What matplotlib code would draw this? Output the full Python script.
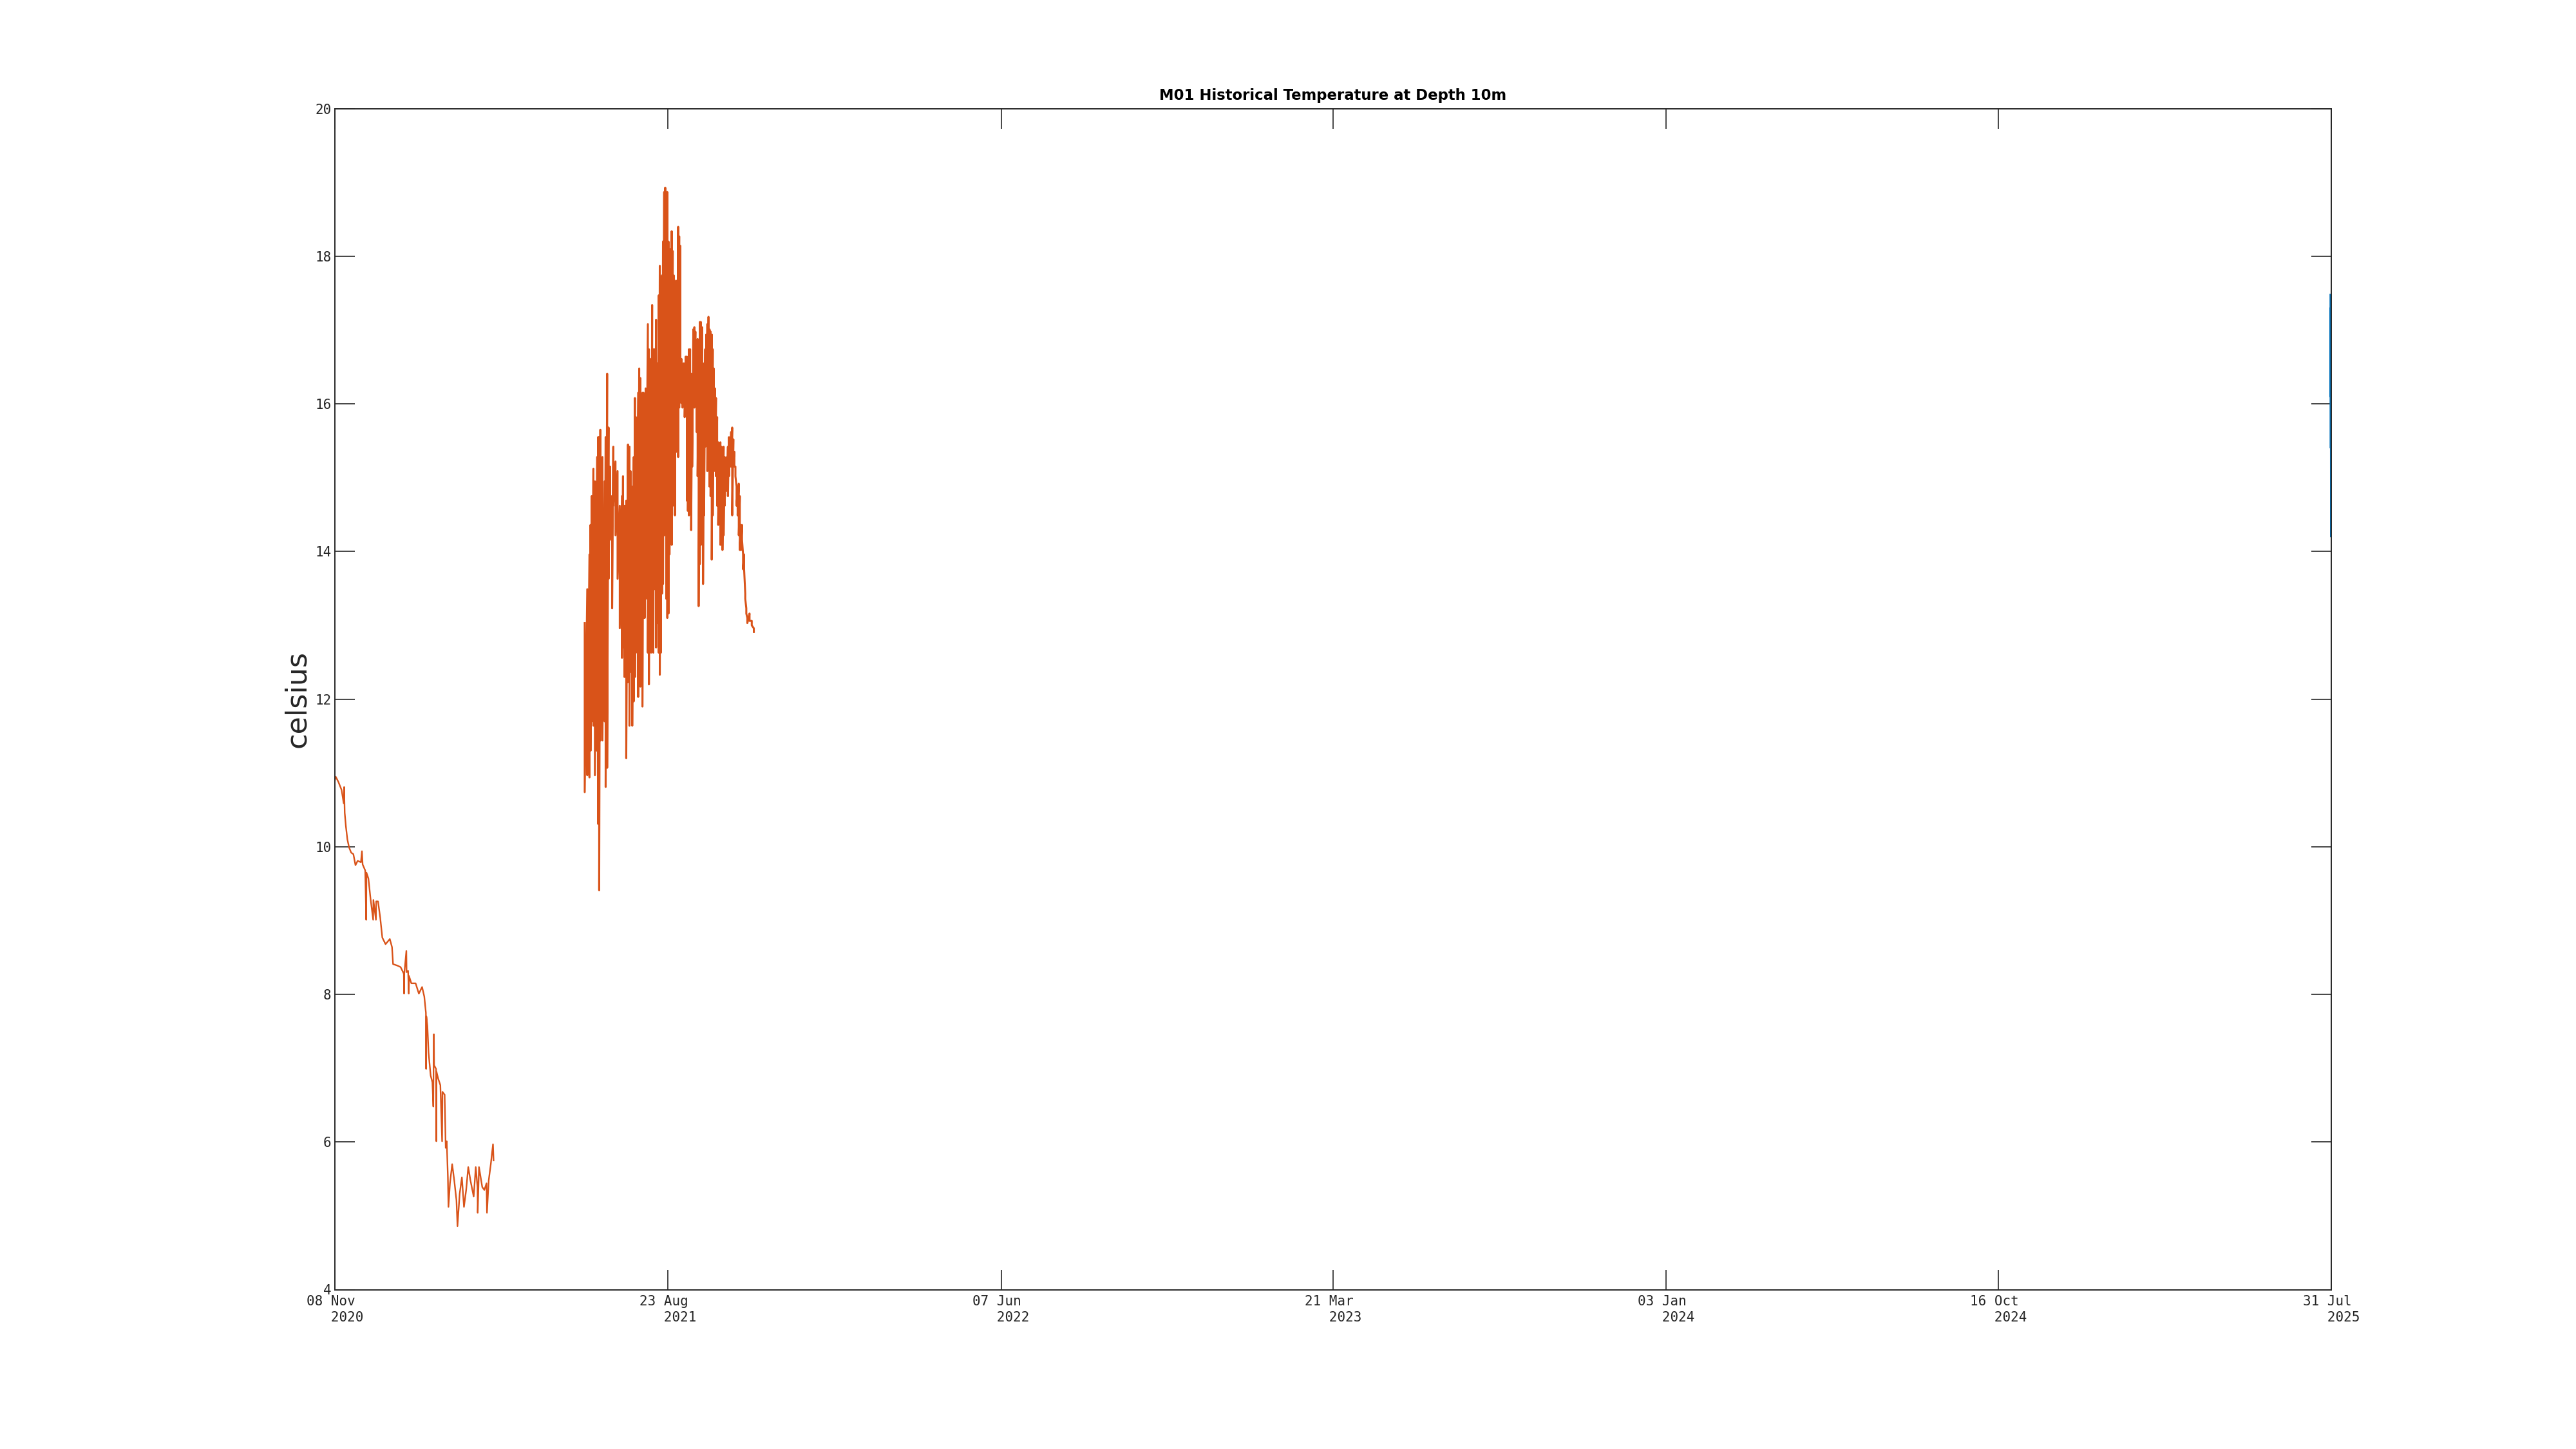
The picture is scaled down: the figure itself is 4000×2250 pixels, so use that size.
import numpy as np
import pandas as pd
import matplotlib
matplotlib.use('Agg')
import matplotlib.pyplot as plt

# ------------------------------------------------------------
# axis range / ticks
# ------------------------------------------------------------
t_start = pd.Timestamp('2020-11-08')
t_end = pd.Timestamp('2025-07-31')
tick_dates = pd.to_datetime(['2020-11-08', '2021-08-23', '2022-06-07', '2023-03-21',
                             '2024-01-03', '2024-10-16', '2025-07-31'])
y_ticks = [4, 6, 8, 10, 12, 14, 16, 18, 20]

# ------------------------------------------------------------
# orange series, part 1 (days since 2020-11-08, celsius)
# ------------------------------------------------------------
s1_day = [0.0, 0.7, 3.0, 5.8, 7.6, 8.0, 8.5, 9.5, 10.8, 12.3, 14.1, 16.0, 17.8, 19.7,
          22.5, 23.4, 24.0, 26.2, 27.1, 27.3, 29.0, 30.8, 33.1, 33.3, 35.5, 35.7, 37.3,
          39.2, 41.0, 43.8, 47.5, 49.4, 50.3, 54.0, 56.8, 59.6, 59.8, 60.0, 61.8, 62.0,
          63.3, 63.9, 64.1, 66.1, 69.8, 72.6, 75.4, 77.3, 78.7, 78.9, 79.1, 80.0, 81.0,
          82.8, 84.3, 85.1, 85.3, 85.6, 85.8, 87.5, 87.7, 87.9, 89.3, 91.2, 92.7, 93.0,
          94.9, 95.8, 96.7, 97.7, 98.2, 99.5, 101.4, 103.2, 105.1, 106.0, 107.9, 109.8,
          111.6, 113.5, 115.3, 117.2, 120.0, 121.8, 123.3, 123.5, 124.6, 127.4, 129.2,
          131.1, 131.5, 133.0, 134.8, 136.7, 137.2]
s1_temp = [10.90, 10.95, 10.88, 10.77, 10.59, 10.81, 10.46, 10.28, 10.10, 9.99, 9.92, 9.90,
           9.75, 9.81, 9.79, 9.94, 9.76, 9.68, 9.01, 9.65, 9.57, 9.30, 9.01, 9.28, 9.01,
           9.26, 9.26, 9.04, 8.77, 8.68, 8.75, 8.64, 8.41, 8.39, 8.37, 8.28, 8.01, 8.28,
           8.59, 8.30, 8.32, 8.01, 8.25, 8.15, 8.15, 8.01, 8.10, 7.97, 7.75, 6.99, 7.70,
           7.57, 7.21, 6.90, 6.81, 6.48, 6.95, 7.46, 7.04, 6.99, 6.01, 6.95, 6.86, 6.77,
           6.01, 6.68, 6.64, 5.92, 6.01, 5.52, 5.12, 5.44, 5.70, 5.48, 5.21, 4.86, 5.30,
           5.52, 5.12, 5.35, 5.66, 5.48, 5.26, 5.66, 5.39, 5.04, 5.66, 5.39, 5.35, 5.44,
           5.04, 5.48, 5.70, 5.97, 5.75]

# ------------------------------------------------------------
# orange series, part 2: daily high / low of the fast oscillation
# ------------------------------------------------------------
s2_day = [216.0, 218.2, 220.1, 221.0, 222.0, 223.5, 224.8, 226.7, 227.6, 228.5,
          229.5, 231.3, 233.2, 234.1, 235.4, 236.6, 237.9, 238.8, 239.7, 240.7,
          242.6, 244.4, 246.3, 248.2, 249.1, 250.4, 251.9, 253.4, 254.7, 255.6,
          257.1, 258.4, 259.4, 260.3, 262.2, 263.1, 264.1, 265.0, 265.9, 266.9,
          267.8, 268.7, 270.6, 271.5, 272.5, 273.4, 274.3, 275.3, 276.2, 277.7,
          278.5, 280.0, 280.9, 281.8, 282.8, 283.7, 284.7, 285.6, 286.5, 287.4,
          288.4, 289.3, 290.2, 291.2, 292.1, 293.0, 294.0, 294.9, 295.8, 296.8,
          297.7, 298.7, 299.6, 300.5, 301.5, 302.4, 303.3, 304.3, 305.2, 306.1,
          307.1, 308.0, 308.9, 309.9, 310.8, 311.7, 312.7, 313.6, 314.5, 315.5,
          316.4, 317.4, 318.3, 319.2, 320.2, 321.1, 322.0, 323.0, 323.9, 324.8,
          325.8, 326.7, 327.6, 328.6, 329.5, 330.5, 331.4, 332.3, 333.3, 334.2,
          335.1, 336.1, 337.0, 337.9, 338.9, 339.8, 340.7, 341.7, 342.6, 343.5,
          344.5, 345.4, 346.3, 347.3, 348.2, 349.2, 350.1, 351.0, 352.0, 352.9,
          353.8, 354.8, 355.7, 356.6, 358.5, 360.4, 362.2]
s2_hi = [13.03, 13.49, 13.96, 14.36, 14.75, 15.12, 14.95, 15.28, 15.55, 15.55,
         15.65, 15.28, 14.95, 15.55, 16.41, 15.68, 15.15, 14.75, 14.62, 15.42,
         15.22, 15.09, 14.62, 14.75, 15.02, 14.62, 14.69, 15.45, 15.42, 15.09,
         14.88, 15.28, 16.08, 15.82, 16.15, 16.48, 16.35, 16.05, 16.15, 16.15,
         16.01, 16.21, 17.08, 16.74, 16.61, 16.35, 17.34, 16.74, 16.74, 17.14,
         16.55, 17.47, 17.87, 17.54, 17.74, 18.20, 18.87, 18.93, 18.87, 18.87,
         18.20, 18.07, 18.10, 18.34, 18.07, 17.74, 17.67, 17.61, 17.67, 18.40,
         18.27, 18.14, 16.61, 16.48, 16.55, 16.55, 16.64, 16.64, 16.48, 16.74,
         16.74, 16.41, 16.28, 17.01, 17.04, 16.98, 16.48, 16.88, 16.48, 17.11,
         17.11, 17.04, 16.48, 16.55, 16.74, 16.94, 17.08, 17.18, 17.01, 16.98,
         16.94, 16.74, 16.48, 16.21, 16.08, 15.82, 15.48, 15.42, 15.48, 15.42,
         15.28, 15.42, 15.28, 15.22, 15.28, 15.42, 15.55, 15.48, 15.62, 15.68,
         15.52, 15.35, 15.15, 14.88, 14.82, 14.92, 14.75, 14.36, 14.36, 13.96,
         13.96, 13.43, 13.23, 13.10, 13.16, 13.06, 12.96]
s2_lo = [10.74, 10.97, 10.94, 11.30, 11.70, 11.64, 10.97, 11.30, 10.31, 9.41,
         11.44, 11.44, 11.70, 10.81, 11.07, 13.63, 14.16, 14.22, 13.23, 14.62,
         14.22, 13.63, 12.96, 12.56, 12.70, 12.30, 11.20, 12.23, 11.64, 12.37,
         11.64, 11.97, 12.30, 12.63, 12.03, 12.43, 12.17, 12.50, 11.90, 13.10,
         13.10, 13.36, 12.63, 12.20, 13.16, 12.63, 12.70, 12.63, 13.49, 12.70,
         13.03, 12.63, 12.33, 12.63, 13.43, 13.56, 14.22, 14.29, 13.36, 13.10,
         13.16, 13.96, 14.22, 14.09, 14.62, 15.02, 14.49, 15.35, 15.81, 15.28,
         15.95, 16.21, 16.01, 15.95, 16.15, 15.82, 16.28, 14.69, 14.55, 14.49,
         15.82, 14.29, 15.15, 16.21, 15.95, 16.15, 15.62, 15.02, 13.26, 13.83,
         14.09, 14.75, 13.56, 14.49, 15.42, 15.55, 15.09, 15.28, 14.88, 14.75,
         13.89, 14.49, 15.15, 15.09, 15.02, 14.62, 14.36, 14.75, 14.09, 14.16,
         14.02, 14.22, 14.62, 14.95, 14.82, 14.75, 15.02, 15.15, 15.15, 14.49,
         15.22, 15.15, 15.02, 14.62, 14.49, 14.22, 14.02, 14.02, 14.16, 13.76,
         13.76, 13.36, 13.16, 13.03, 13.06, 13.00, 12.91]

# ------------------------------------------------------------
# blue series: newest data, last hours before 31 Jul 2025
# ------------------------------------------------------------
b_time = pd.to_datetime(['2025-07-30 06:00', '2025-07-30 08:00', '2025-07-30 10:00',
                         '2025-07-30 12:00', '2025-07-30 14:00', '2025-07-30 16:00',
                         '2025-07-30 18:00', '2025-07-30 20:00', '2025-07-30 22:00',
                         '2025-07-31 00:00'])
b_temp = [17.48, 16.10, 17.30, 15.40, 16.90, 14.80, 16.40, 14.20, 15.90, 15.10]

orange = '#D95319'
blue = '#0072BD'
axcol = '#262626'

t1 = t_start + pd.to_timedelta(s1_day, unit='D')
t2 = t_start + pd.to_timedelta(np.repeat(s2_day, 2), unit='D')
v2 = np.column_stack([s2_hi, s2_lo]).ravel()

fig = plt.figure(figsize=(20, 11.25), dpi=200)
ax = fig.add_axes([0.13, 0.11, 0.775, 0.815])

ax.plot(t1, s1_temp, color=orange, lw=0.85)
ax.plot(t2, v2, color=orange, lw=1.1)
ax.plot(b_time, b_temp, color=blue, lw=1.0)

ax.set_xlim(t_start, t_end)
ax.set_ylim(4, 20)
ax.set_xticks(tick_dates)
ax.set_xticklabels([d.strftime('%d %b') + '\n   ' + d.strftime('%Y') for d in tick_dates],
                   family='DejaVu Sans Mono', fontsize=7.5, color=axcol,
                   multialignment='left', linespacing=1.3)
ax.set_yticks(y_ticks)
ax.set_yticklabels([str(v) for v in y_ticks], family='DejaVu Sans Mono', fontsize=7.5,
                   color=axcol)

ax.tick_params(direction='in', length=11, width=0.6, color=axcol, top=True, right=True)
ax.tick_params(axis='x', pad=3)
ax.tick_params(axis='y', pad=2)
for s in ax.spines.values():
    s.set_color(axcol)
    s.set_linewidth(0.7)

ax.set_title('M01 Historical Temperature at Depth 10m', fontsize=8.2,
             fontweight='bold', pad=5)
ax.set_ylabel('celsius', fontsize=16, color=axcol, va='center')
ax.yaxis.set_label_coords(-0.019, 0.5)

fig.savefig('out.png', dpi=200, facecolor='white')
